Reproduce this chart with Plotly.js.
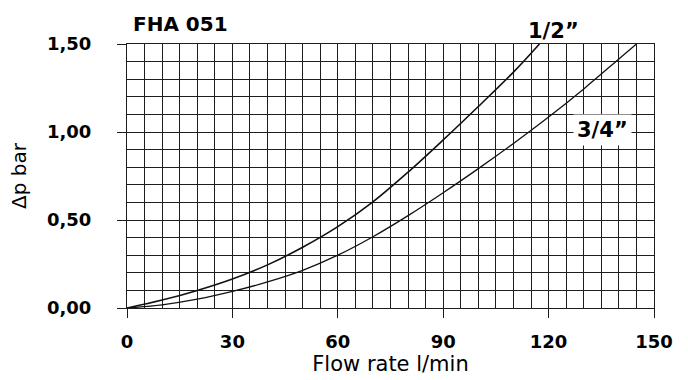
<!DOCTYPE html>
<html>
<head>
<meta charset="utf-8">
<script src="https://cdn.plot.ly/plotly-3.0.1.min.js"></script>
<style>html,body{margin:0;padding:0;background:#fff;}#chart{width:688px;height:380px;}</style>
</head>
<body>
<div id="chart"></div>
<script>
// Flow rate (l/min) and pressure drop (bar)
const flowHalf = [0, 10, 20, 30, 40, 50, 60, 70, 80, 90, 100, 110, 117.4];
const dpHalf   = [0, 0.045, 0.1, 0.165, 0.245, 0.345, 0.462, 0.603, 0.772, 0.955, 1.145, 1.34, 1.5];
const flowThreeQuarter = [0, 10, 20, 30, 40, 50, 60, 70, 80, 90, 100, 110, 120, 130, 140, 145];
const dpThreeQuarter   = [0, 0.018, 0.05, 0.094, 0.148, 0.214, 0.3, 0.405, 0.525, 0.655, 0.792, 0.935, 1.085, 1.245, 1.415, 1.5];
const seriesNames = ['1/2”', '3/4”'];
const chartTitle = 'FHA 051';
const xTitle = 'Flow rate l/min';
const yTitle = 'Δp bar';

const gridColor = '#1e1e1e';
const traces = [
  {x: flowHalf, y: dpHalf, name: seriesNames[0], mode: 'lines',
   line: {color: '#111', width: 1.6, shape: 'spline', smoothing: 1}, hoverinfo: 'skip'},
  {x: flowThreeQuarter, y: dpThreeQuarter, name: seriesNames[1], mode: 'lines',
   line: {color: '#111', width: 1.3, shape: 'spline', smoothing: 1}, hoverinfo: 'skip'}
];

const layout = {
  width: 688, height: 380,
  margin: {l: 127, r: 34, t: 44, b: 72},
  paper_bgcolor: '#fff', plot_bgcolor: '#fff',
  showlegend: false,
  separators: ',.',
  xaxis: {
    range: [0, 150], dtick: 30, tick0: 0,
    showgrid: true, gridcolor: gridColor, gridwidth: 1,
    zeroline: false, showline: true, mirror: true, linecolor: gridColor, linewidth: 1,
    ticks: 'outside', ticklen: 9, tickcolor: gridColor, tickwidth: 1,
    ticklabelstandoff: 8,
    tickfont: {family: 'DejaVu Sans', size: 18, weight: 'bold', color: '#000'},
    minor: {dtick: 5, showgrid: true, gridcolor: gridColor, gridwidth: 1, ticks: ''},
    title: {text: xTitle, font: {family: 'DejaVu Sans', size: 21, color: '#000'}, standoff: 2},
    fixedrange: true
  },
  yaxis: {
    range: [0, 1.5], dtick: 0.5, tick0: 0, tickformat: '.2f',
    showgrid: true, gridcolor: gridColor, gridwidth: 1,
    zeroline: false, showline: true, mirror: true, linecolor: gridColor, linewidth: 1,
    ticks: 'outside', ticklen: 9, tickcolor: gridColor, tickwidth: 1,
    ticklabelstandoff: 22,
    tickfont: {family: 'DejaVu Sans', size: 18, weight: 'bold', color: '#000'},
    minor: {dtick: 0.1, showgrid: true, gridcolor: gridColor, gridwidth: 1, ticks: ''},
    title: {text: yTitle, font: {family: 'DejaVu Sans', size: 20, color: '#000'}, standoff: 14},
    fixedrange: true
  },
  annotations: [
    {x: 0.008, y: 1.076, xref: 'paper', yref: 'paper', text: chartTitle, showarrow: false,
     xanchor: 'left', yanchor: 'middle',
     font: {family: 'DejaVu Sans', size: 20, weight: 'bold', color: '#000'}},
    {x: 0.81, y: 1.05, xref: 'paper', yref: 'paper', text: seriesNames[0], showarrow: false,
     xanchor: 'center', yanchor: 'middle',
     font: {family: 'DejaVu Sans', size: 21, weight: 'bold', color: '#000'}},
    {x: 135.2, y: 1.01, xref: 'x', yref: 'y', text: seriesNames[1], showarrow: false,
     xanchor: 'center', yanchor: 'middle', bgcolor: '#fff', borderpad: 3,
     font: {family: 'DejaVu Sans', size: 21, weight: 'bold', color: '#000'}}
  ]
};

Plotly.newPlot('chart', traces, layout, {staticPlot: true, displayModeBar: false});
</script>
</body>
</html>
